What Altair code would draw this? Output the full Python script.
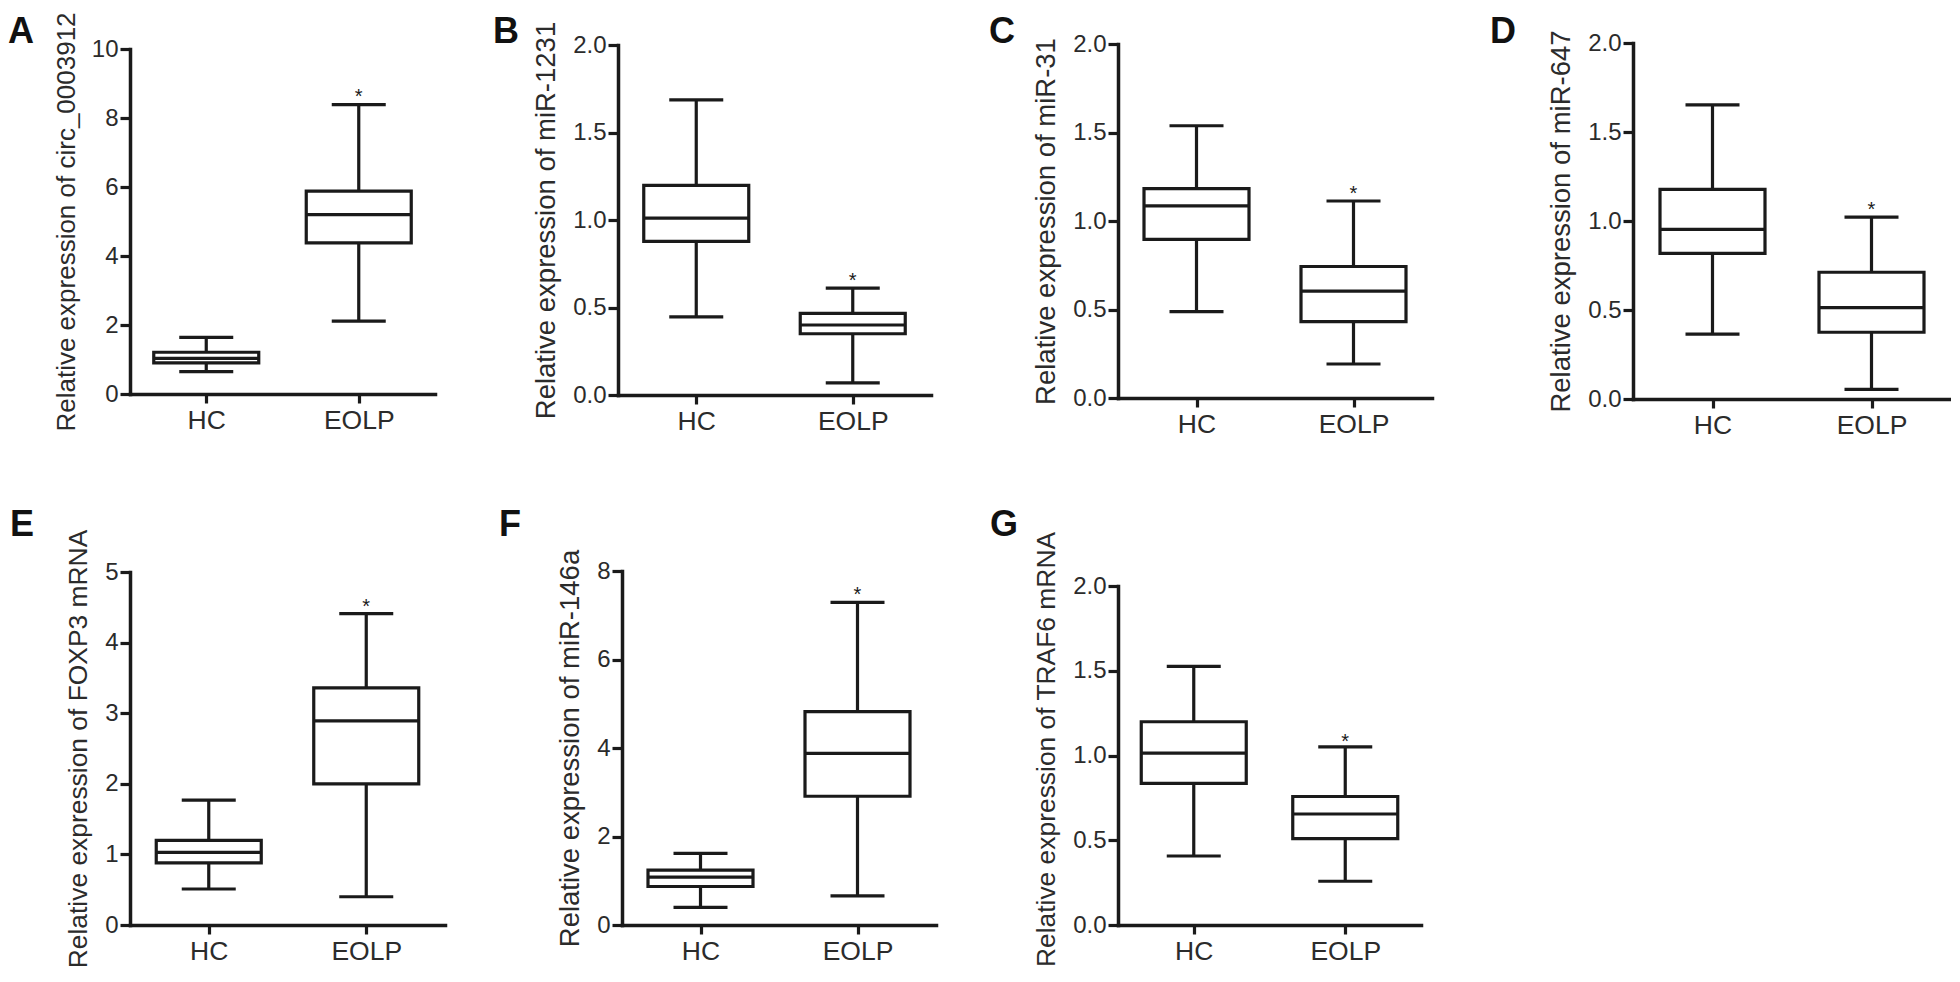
import altair as alt
import pandas as pd

groups = ["HC", "EOLP"]

# panel metadata
letters = ["A", "B", "C", "D", "E", "F", "G"]
titles = [
    "Relative expression of circ_0003912",
    "Relative expression of miR-1231",
    "Relative expression of miR-31",
    "Relative expression of miR-647",
    "Relative expression of FOXP3 mRNA",
    "Relative expression of miR-146a",
    "Relative expression of TRAF6 mRNA",
]
y_max = [10, 2.0, 2.0, 2.0, 5, 8, 2.0]
y_ticks = [
    [0, 2, 4, 6, 8, 10],
    [0, 0.5, 1.0, 1.5, 2.0],
    [0, 0.5, 1.0, 1.5, 2.0],
    [0, 0.5, 1.0, 1.5, 2.0],
    [0, 1, 2, 3, 4, 5],
    [0, 2, 4, 6, 8],
    [0, 0.5, 1.0, 1.5, 2.0],
]
y_fmt = ["d", ".1f", ".1f", ".1f", "d", "d", ".1f"]

# box statistics, per panel: [HC, EOLP]
whisk_low = [[0.65, 2.11], [0.446, 0.069], [0.488, 0.192], [0.365, 0.054],
             [0.51, 0.40], [0.40, 0.66], [0.407, 0.258]]
quart_1 = [[0.90, 4.38], [0.878, 0.350], [0.896, 0.432], [0.818, 0.375],
           [0.88, 2.00], [0.87, 2.91], [0.836, 0.509]]
medians = [[1.03, 5.20], [1.011, 0.400], [1.085, 0.604], [0.953, 0.513],
           [1.03, 2.89], [1.08, 3.88], [1.014, 0.655]]
quart_3 = [[1.21, 5.88], [1.198, 0.467], [1.183, 0.743], [1.178, 0.712],
           [1.20, 3.36], [1.24, 4.82], [1.199, 0.758]]
whisk_high = [[1.64, 8.39], [1.686, 0.611], [1.538, 1.113], [1.652, 1.022],
              [1.77, 4.41], [1.62, 7.29], [1.526, 1.051]]
star_group = "EOLP"
star_y = [8.74, 0.678, 1.18, 1.09, 4.58, 7.56, 1.11]

# layout (pixels)
widths = [305, 313, 314, 318, 315, 314, 303]
row_height = [356, 356, 356, 356, 354, 354, 354]
y_range_bottom = [351, 352, 355, 356, 354, 354, 354]
y_range_top = [6, 2, 1, 0, 1, 0, 15]
title_size = [26, 27.5, 27.5, 27.5, 26.4, 27.5, 26.4]
title_center = [None, None, None, None, None, None, 178]
letter_dx = [-122, -125, -129, -143, -120, -123, -128]
letter_dy = [-28, -28, -28, -28, -63, -63, -63]

FONT = "Liberation Sans"
INK = "#1a1a1a"
TXT = "#2b2b2b"
BOX_W = 105
CAP_W = 54
LW = 3.2


def panel(i):
    df = pd.DataFrame({
        "group": groups,
        "lo": whisk_low[i],
        "q1": quart_1[i],
        "med": medians[i],
        "q3": quart_3[i],
        "hi": whisk_high[i],
    })
    ysc = alt.Scale(domain=[0, y_max[i]], nice=False, zero=True,
                    range=[y_range_bottom[i], y_range_top[i]])
    yax_kw = dict(
        values=y_ticks[i], format=y_fmt[i], grid=False,
        labelFont=FONT, labelFontSize=24, labelColor=TXT, labelPadding=2,
        titleFont=FONT, titleFontSize=title_size[i], titleFontWeight="normal",
        titleColor=TXT, titlePadding=12,
        tickSize=10, tickWidth=LW, tickColor=INK,
        domainColor=INK, domainWidth=3.5, domainCap="square",
    )
    if title_center[i] is not None:
        yax_kw["titleY"] = title_center[i]
    yax = alt.Axis(**yax_kw)
    xsc = alt.Scale(type="point", domain=groups, padding=0.5)
    xax = alt.Axis(
        title=None, labelAngle=0, grid=False,
        labelFont=FONT, labelFontSize=26.5, labelColor=TXT, labelPadding=4,
        tickSize=9, tickWidth=LW, tickColor=INK,
        domainColor=INK, domainWidth=3.5, domainCap="square",
        offset=y_range_bottom[i] - row_height[i],
    )

    def X():
        return alt.X("group:N", scale=xsc, axis=xax, sort=groups)

    def Y(f):
        return alt.Y(f"{f}:Q", scale=ysc, axis=yax, title=titles[i])

    base = alt.Chart(df)
    whisk = base.mark_rule(color=INK, strokeWidth=LW).encode(
        x=X(), y=Y("lo"), y2="hi:Q")
    box = base.mark_bar(size=BOX_W, fill="white", stroke=INK,
                        strokeWidth=LW).encode(x=X(), y=Y("q1"), y2="q3:Q")
    med = base.mark_tick(size=BOX_W, thickness=LW, color=INK,
                         orient="horizontal", opacity=1).encode(x=X(), y=Y("med"))
    cap_lo = base.mark_tick(size=CAP_W, thickness=LW, color=INK,
                            orient="horizontal", opacity=1).encode(x=X(), y=Y("lo"))
    cap_hi = base.mark_tick(size=CAP_W, thickness=LW, color=INK,
                            orient="horizontal", opacity=1).encode(x=X(), y=Y("hi"))
    star = alt.Chart(pd.DataFrame({"group": [star_group], "s": [star_y[i]],
                                   "t": ["*"]})).mark_text(
        font=FONT, fontSize=20, color=INK, baseline="alphabetic", dy=11
    ).encode(x=X(), y=Y("s"), text="t:N")
    letter = alt.Chart(pd.DataFrame({"t": [letters[i]]})).mark_text(
        font=FONT, fontSize=36, fontWeight="bold", color="#111",
        align="left", baseline="top"
    ).encode(x=alt.value(letter_dx[i]), y=alt.value(letter_dy[i]), text="t:N")

    return alt.layer(whisk, box, med, cap_lo, cap_hi, star, letter).properties(
        width=widths[i], height=row_height[i])


row1 = alt.hconcat(*[panel(i) for i in range(4)], spacing=58)
row2 = alt.hconcat(*[panel(i) for i in range(4, 7)], spacing=54)
chart = alt.vconcat(row1, row2, spacing=68).properties(
    padding={"left": 0, "top": 3, "right": 0, "bottom": 0},
    background="white",
).configure_view(stroke=None)

chart.save("out.html", embed_options={"renderer": "svg", "actions": False})
